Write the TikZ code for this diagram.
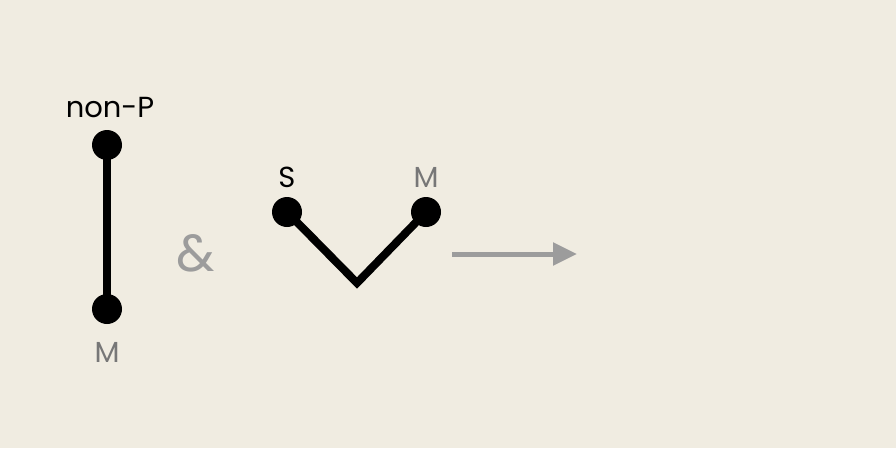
\documentclass[tikz,border=0pt]{standalone}
\usepackage{fontspec}
\setmainfont{Poppins}
\usetikzlibrary{arrows.meta,positioning}
\definecolor{paper}{HTML}{F0ECE1}
\definecolor{labelgray}{HTML}{777777}
\definecolor{lightgray}{HTML}{9C9C9C}

\begin{document}
\begin{tikzpicture}[x=1pt,y=-1pt,
		dot/.style={draw=none, fill=black, circle, minimum size=30pt, inner sep=0pt},
		link/.style={line width=8pt, black, line join=miter},
		lbl/.style={font=\fontsize{29}{29}\selectfont, inner sep=0pt},
		glbl/.style={lbl, text=labelgray}]
		\fill[paper] (0,0) rectangle (896,448);
		\useasboundingbox (0,0) rectangle (896,448);

		% vertical stick
		\node[dot] (np) at (107,145) {};
		\node[dot] (m1) at (107,309) {};
		\draw[link] (np.center) -- (m1.center);
		\node[lbl] (npl) at (110,108) {non-P};
		\node[glbl] (m1l) at (107,352) {M};

		\node[font=\fontsize{52}{52}\selectfont, text=lightgray, inner sep=0pt] (amp) at (196,253) {\&};

		% v shape
		\node[dot] (s) at (287,212) {};
		\node[dot] (m2) at (426,212) {};
		\coordinate (v) at (357,283);
		\draw[link] (s.center) -- (v) -- (m2.center);
		\node[lbl] (sl) at (287,177) {S};
		\node[glbl] (m2l) at (426,177) {M};

		% arrow
		\coordinate (a0) at (452,254);
		\coordinate (a1) at (577,254);
		\draw[lightgray, line width=5pt, -{Triangle[length=24pt,width=22pt]}] (a0) -- (a1);
	\end{tikzpicture}
\end{document}
